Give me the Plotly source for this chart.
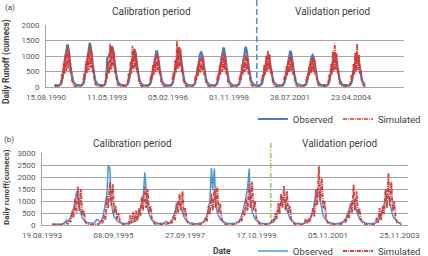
import pandas as pd
import plotly.graph_objects as go

# ---------------- data (semi-monthly readings) ----------------
start_a = "1991-01-01"
obs_a = [
    70,60,50,45,45,50,60,85,160,320,560,820,1020,1230,1370,1300,1080,780,500,320,200,140,100,80,
    70,62,55,50,50,55,66,95,180,360,620,880,1080,1280,1420,1340,1120,820,540,340,215,150,110,85,
    72,62,55,50,50,56,70,110,300,920,960,1010,1120,1240,1310,1240,1040,780,500,320,200,140,100,80,
    68,58,50,46,46,52,62,92,170,330,570,800,980,1120,1200,1150,980,740,480,300,190,130,95,75,
    64,56,50,46,46,50,60,84,155,310,530,760,930,1090,1180,1110,940,700,450,290,180,122,90,70,
    62,55,50,46,46,52,62,92,175,350,600,850,1040,1200,1280,1230,1040,780,500,320,200,140,100,80,
    66,56,50,46,46,50,60,86,160,320,540,760,920,1060,1120,1080,920,690,450,290,180,125,90,70,
    62,55,50,46,46,52,62,90,175,345,590,830,1010,1190,1270,1220,1040,780,500,320,200,140,100,80,
    64,56,50,46,46,52,62,90,175,345,590,830,1010,1200,1300,1210,1030,770,495,315,198,138,98,78,
    64,55,50,45,45,50,60,85,150,300,500,700,860,990,1070,1030,880,660,430,280,175,120,90,70,
    64,55,50,45,45,50,60,86,158,320,540,760,930,1080,1170,1110,950,710,460,295,182,125,92,72,
    62,54,50,45,45,50,58,82,148,295,490,690,840,960,1030,990,850,640,420,275,172,118,88,68,
    62,54,50,45,45,50,58,82,145,290,480,680,830,940,1000,970,830,630,410,270,170,116,86,66,
    60,54,50,45,45,50,58,80,142,285,470,670,820,930,980,950,820,620,405,265,168,115,85,65,
]
sim_a = [
    20,15,12,15,20,35,70,160,420,260,780,420,1050,520,1350,600,1150,460,620,200,80,40,25,18,
    18,14,12,14,20,36,75,170,440,270,820,440,1100,540,1380,620,1180,470,640,210,85,42,25,18,
    18,14,12,14,20,36,80,180,460,280,840,440,1400,560,1300,640,1150,460,620,205,82,40,25,18,
    18,14,12,14,20,35,75,170,440,270,820,430,1330,540,1250,600,1100,450,600,200,80,40,24,18,
    18,14,12,14,20,34,70,150,390,240,700,380,900,480,1100,540,1000,420,560,185,75,38,24,18,
    18,14,12,14,20,36,78,180,460,280,860,460,1480,580,1300,640,1200,480,660,210,85,42,25,18,
    18,14,12,14,20,33,66,140,360,230,650,360,850,460,1000,520,950,400,530,180,72,36,23,17,
    18,14,12,14,20,34,70,150,390,240,700,390,950,490,1100,560,1000,420,560,185,75,38,24,18,
    18,14,12,14,20,34,68,148,380,240,690,380,920,480,1050,540,980,410,550,180,74,37,23,17,
    18,14,12,14,20,35,70,155,400,250,730,390,1000,500,1170,560,1050,430,570,190,76,38,24,18,
    18,14,12,14,20,33,66,142,370,235,670,370,880,470,1000,520,950,400,530,180,72,36,23,17,
    18,14,12,14,20,32,64,138,360,230,650,360,850,460,950,500,900,390,510,175,70,35,22,17,
    18,14,12,14,20,34,70,150,400,250,750,400,1150,510,1400,560,1100,440,560,185,75,38,24,18,
    18,14,12,14,20,34,70,150,390,245,740,395,1100,500,1400,550,1050,430,550,180,74,37,23,17,
]

start_b = "1993-12-01"
obs_b = [
    40,35,
    35,30,30,30,35,40,60,120,200,150,250,300,500,700,900,1400,1100,700,450,300,200,150,110,90,
    80,70,65,70,150,230,200,120,150,300,600,1000,1300,2500,2350,1000,500,350,250,180,130,100,80,70,
    60,60,55,60,80,100,120,150,200,300,500,700,900,1100,2200,1300,700,450,300,200,150,110,90,75,
    70,60,60,70,120,150,100,90,120,200,400,600,800,1000,900,700,500,350,250,180,120,90,75,65,
    60,55,55,60,70,90,110,150,250,400,700,1000,2370,1500,2350,900,500,350,250,180,130,100,80,70,
    60,55,55,60,70,90,110,150,250,400,650,900,1200,1500,2350,1000,550,380,260,190,140,100,80,70,
    60,55,55,60,70,80,100,150,250,400,600,800,1000,1100,1050,900,600,400,280,200,140,100,80,70,
    60,55,55,60,70,90,120,150,250,400,600,900,1200,1400,1300,1000,600,400,280,200,140,100,80,70,
    60,55,55,60,70,90,110,140,200,300,500,700,900,1000,950,800,550,380,260,190,140,100,80,70,
    60,55,55,60,70,90,120,180,300,400,600,900,1100,1300,1200,900,600,400,280,200,140,100,80,70,
]
sim_b = [
    15,10,
    10,10,10,12,15,20,30,60,100,50,200,120,600,300,1100,500,1600,600,1500,400,600,150,60,30,
    20,15,15,15,20,30,40,60,150,80,400,200,1200,700,1800,800,1700,500,800,250,500,100,50,30,
    30,20,25,30,400,80,550,120,600,150,700,350,1200,600,1600,700,1500,500,800,250,100,50,30,25,
    25,20,20,25,60,30,80,40,150,80,400,200,900,500,1300,600,1400,400,700,180,80,40,25,20,
    20,15,15,20,30,50,80,150,300,150,800,450,1300,600,1500,700,1600,500,900,250,150,60,30,20,
    20,15,15,20,30,40,70,120,250,150,600,400,1100,600,1700,700,1800,600,1000,300,120,50,30,20,
    20,15,15,20,40,100,250,150,500,250,900,450,1300,700,1625,600,1400,500,800,250,100,50,30,20,
    20,15,15,20,30,250,80,300,150,400,700,350,1500,800,2445,1000,1960,700,1000,300,100,50,30,20,
    20,15,15,20,30,40,60,100,200,120,500,300,900,500,1680,600,1400,450,700,250,100,50,30,20,
    20,15,15,20,30,40,300,100,700,200,800,450,1500,700,2170,800,1800,600,1000,300,100,50,30,20,
]

split_a = "2000-01-31"
split_b = "2000-03-15"
range_a = ["1990-08-15", "2006-09-09"]
range_b = ["1993-08-19", "2004-02-22"]
tick0_a, dtick_a_days = "1990-08-15", 1000
tick0_b, dtick_b_days = "1993-08-19", 750

# ---------------- figure ----------------
W, H = 428, 256
FONT = "Roboto, Arial, sans-serif"
GRID = "#a6a6a6"
TXT = "#404040"
DASHDOT = "4px,1px,1px,1px"

dates_a = pd.date_range(start_a, periods=len(obs_a), freq="SMS")
dates_b = pd.date_range(start_b, periods=len(obs_b), freq="SMS")

fig = go.Figure()
fig.add_trace(go.Scatter(x=dates_a, y=obs_a, mode="lines", name="Observed",
                         line=dict(color="#4a7ebb", width=2.2), xaxis="x", yaxis="y", legend="legend"))
fig.add_trace(go.Scatter(x=dates_a, y=sim_a, mode="lines", name="Simulated",
                         line=dict(color="#e0352b", width=1.6, dash=DASHDOT),
                         xaxis="x", yaxis="y", legend="legend"))
fig.add_trace(go.Scatter(x=dates_b, y=obs_b, mode="lines", name="Observed",
                         line=dict(color="#4a96d6", width=1.5), xaxis="x2", yaxis="y2", legend="legend2"))
fig.add_trace(go.Scatter(x=dates_b, y=sim_b, mode="lines", name="Simulated",
                         line=dict(color="#cc4440", width=1.8, dash=DASHDOT),
                         xaxis="x2", yaxis="y2", legend="legend2"))

def px_x(p):
    return p / W

def px_y(p):
    return 1 - p / H

tickfont = dict(family=FONT, size=8, color="#595959")
xcommon = dict(type="date", showgrid=False, showline=True, linecolor=GRID, linewidth=1,
               ticks="", tickformat="%d.%m.%Y", tickfont=tickfont, zeroline=False,
               ticklabelstandoff=2, tickangle=0)
ycommon = dict(showgrid=True, gridcolor=GRID, gridwidth=1, showline=True, linecolor=GRID,
               linewidth=1, ticks="", tickfont=tickfont, zeroline=False, dtick=500,
               ticklabelstandoff=4)

fig.update_layout(
    width=W, height=H, autosize=False,
    margin=dict(l=0, r=0, t=0, b=0, autoexpand=False),
    paper_bgcolor="white", plot_bgcolor="white",
    font=dict(family=FONT, color=TXT),
    xaxis=dict(domain=[px_x(46), px_x(404)], anchor="y", range=range_a,
               tick0=tick0_a, dtick=dtick_a_days * 86400000, **xcommon),
    yaxis=dict(domain=[px_y(87), px_y(25)], anchor="x", range=[0, 2000], **ycommon),
    xaxis2=dict(domain=[px_x(42), px_x(408)], anchor="y2", range=range_b,
                tick0=tick0_b, dtick=dtick_b_days * 86400000, **xcommon),
    yaxis2=dict(domain=[px_y(225), px_y(153)], anchor="x2", range=[0, 3000], **ycommon),
    legend=dict(orientation="h", x=0.995, y=px_y(119), xanchor="right", yanchor="middle",
                font=dict(family=FONT, size=9.5, color=TXT), bgcolor="rgba(0,0,0,0)",
                itemwidth=30, tracegroupgap=0),
    legend2=dict(orientation="h", x=0.995, y=px_y(251), xanchor="right", yanchor="middle",
                 font=dict(family=FONT, size=9.5, color=TXT), bgcolor="rgba(0,0,0,0)",
                 itemwidth=30, tracegroupgap=0),
    showlegend=True,
)

fig.add_shape(type="line", xref="x", yref="paper", x0=split_a, x1=split_a,
              y0=px_y(87), y1=1.0, line=dict(color="#4f8bc9", width=1.5, dash="6px,3px"))
fig.add_shape(type="line", xref="x2", yref="paper", x0=split_b, x1=split_b,
              y0=px_y(218), y1=px_y(143), line=dict(color="#92d050", width=1.5, dash="5px,2px,1px,2px"))

def ann(text, x, y, size, bold=False, angle=0, xanchor="center"):
    fig.add_annotation(text=f"<b>{text}</b>" if bold else text, x=px_x(x), y=px_y(y),
                       xref="paper", yref="paper", showarrow=False, textangle=angle,
                       xanchor=xanchor, yanchor="middle",
                       font=dict(family=FONT, size=size, color=TXT))

ann("(a)", 3, 7, 8, xanchor="left")
ann("Calibration period", 151, 11, 10)
ann("Validation period", 332, 11, 10)
ann("Daily Runoff (cumecs)", 6, 62, 8.5, bold=True, angle=-90)
ann("(b)", 2, 139, 8, xanchor="left")
ann("Calibration period", 132, 143, 10)
ann("Validation period", 339, 143, 10)
ann("Daily runoff(cumecs)", 6, 187, 8, bold=True, angle=-90)
ann("Date", 222, 251, 8.5, bold=True)

fig.write_html("out.html")
